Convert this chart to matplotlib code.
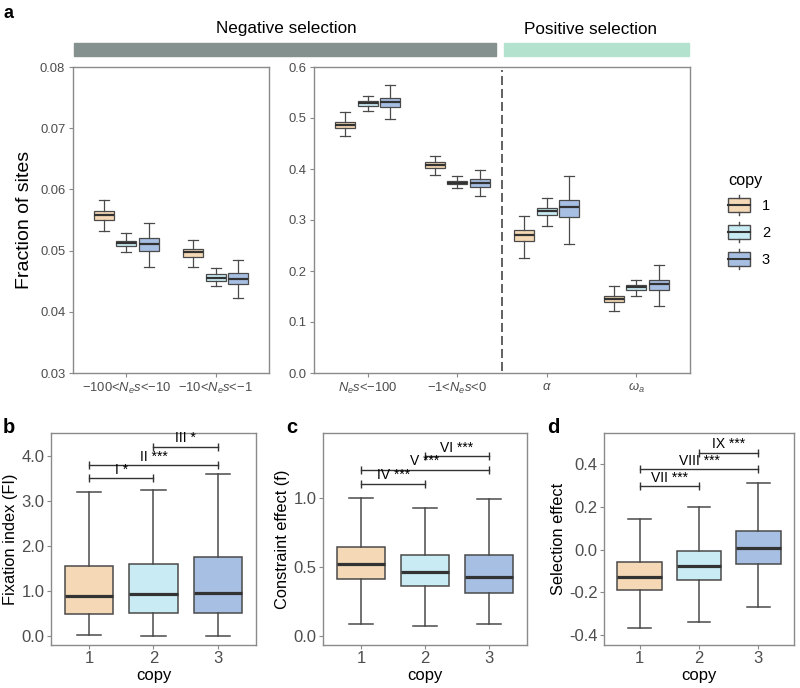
import matplotlib
matplotlib.use("Agg")
import matplotlib.pyplot as plt
from matplotlib.patches import Rectangle
from matplotlib.lines import Line2D
from matplotlib.legend_handler import HandlerBase
from matplotlib.ticker import FormatStrFormatter

plt.rcParams['font.family'] = ['Liberation Sans', 'DejaVu Sans']
plt.rcParams['mathtext.fontset'] = 'custom'
plt.rcParams['mathtext.rm'] = 'Liberation Sans'
plt.rcParams['mathtext.it'] = 'Liberation Sans:italic'
plt.rcParams['mathtext.sf'] = 'Liberation Sans'

# ---- data (whislo, q1, median, q3, whishi) ----
copies = ["1", "2", "3"]
copy_colors = ["#F5D9B6", "#C9ECF4", "#A8BFE4"]

a_left_cats = ["\u2212100<$N_e s$<\u221210", "\u221210<$N_e s$<\u22121"]
a_left_copy1 = [(0.0532, 0.0550, 0.0558, 0.0565, 0.0582), (0.0474, 0.0490, 0.0497, 0.0503, 0.0518)]
a_left_copy2 = [(0.0497, 0.0507, 0.0512, 0.0516, 0.0529), (0.0442, 0.0451, 0.0455, 0.0461, 0.0472)]
a_left_copy3 = [(0.0474, 0.0499, 0.0511, 0.0520, 0.0545), (0.0422, 0.0445, 0.0454, 0.0463, 0.0485)]

a_right_cats = ["$N_e s$<\u2212100", "\u22121<$N_e s$<0", r"$\alpha$", r"$\omega_a$"]
a_right_copy1 = [(0.464, 0.481, 0.487, 0.493, 0.511), (0.388, 0.402, 0.408, 0.413, 0.425),
                 (0.226, 0.258, 0.271, 0.280, 0.308), (0.122, 0.139, 0.145, 0.151, 0.170)]
a_right_copy2 = [(0.513, 0.524, 0.529, 0.534, 0.543), (0.363, 0.370, 0.373, 0.377, 0.386),
                 (0.288, 0.309, 0.318, 0.324, 0.343), (0.151, 0.163, 0.168, 0.172, 0.182)]
a_right_copy3 = [(0.499, 0.522, 0.531, 0.540, 0.564), (0.347, 0.365, 0.372, 0.380, 0.398),
                 (0.253, 0.306, 0.325, 0.340, 0.386), (0.132, 0.162, 0.175, 0.183, 0.211)]

b_stats = [(0.02, 0.48, 0.89, 1.56, 3.19), (0.005, 0.50, 0.93, 1.61, 3.24), (0.005, 0.52, 0.96, 1.76, 3.61)]
c_stats = [(0.087, 0.414, 0.52, 0.648, 1.0), (0.072, 0.359, 0.465, 0.585, 0.925), (0.084, 0.308, 0.429, 0.59, 0.99)]
d_stats = [(-0.369, -0.192, -0.13, -0.058, 0.145), (-0.339, -0.142, -0.077, -0.005, 0.202),
           (-0.270, -0.066, 0.008, 0.086, 0.314)]

b_brackets = [("I *", 1, 2, 3.50), ("II ***", 1, 3, 3.80), ("III *", 2, 3, 4.21)]
c_brackets = [("IV ***", 1, 2, 1.104), ("V ***", 1, 3, 1.205), ("VI ***", 2, 3, 1.301)]
d_brackets = [("VII ***", 1, 2, 0.298), ("VIII ***", 1, 3, 0.377), ("IX ***", 2, 3, 0.455)]

EDGE = "#4a4a4a"
MED = "#333333"
SPINE = "#8a8a8a"
TICK = "#4d4d4d"


def draw_box(ax, s, pos, width, color, lw, mlw):
    st = [dict(whislo=s[0], q1=s[1], med=s[2], q3=s[3], whishi=s[4])]
    ax.bxp(st, positions=[pos], widths=width, capwidths=width * 0.5,
           patch_artist=True, showfliers=False, manage_ticks=False,
           boxprops=dict(facecolor=color, edgecolor=EDGE, linewidth=lw),
           medianprops=dict(color=MED, linewidth=mlw),
           whiskerprops=dict(color=EDGE, linewidth=lw),
           capprops=dict(color=EDGE, linewidth=lw))


def style_ax(ax, tsize, pad):
    for sp in ax.spines.values():
        sp.set_color(SPINE)
        sp.set_linewidth(1.0)
    ax.tick_params(colors=SPINE, labelcolor=TICK, labelsize=tsize, length=3, width=0.8, pad=pad)


fig = plt.figure(figsize=(8, 6.88), dpi=100)
W, H = 800, 688


def px_axes(x0, x1, y0, y1):
    return fig.add_axes([x0 / W, 1 - y1 / H, (x1 - x0) / W, (y1 - y0) / H])


# ---- panel a ----
axl = px_axes(73, 269, 67, 373)
axr = px_axes(314, 690, 67, 373)

offsets = [-0.25, 0, 0.25]
for k, grp in enumerate([a_left_copy1, a_left_copy2, a_left_copy3]):
    for i, s in enumerate(grp):
        draw_box(axl, s, i + 1 + offsets[k], 0.225, copy_colors[k], 0.9, 1.6)
for k, grp in enumerate([a_right_copy1, a_right_copy2, a_right_copy3]):
    for i, s in enumerate(grp):
        draw_box(axr, s, i + 1 + offsets[k], 0.225, copy_colors[k], 0.9, 1.6)

axl.set_xlim(0.4, 2.6)
axl.set_ylim(0.03, 0.08)
axl.set_yticks([0.03, 0.04, 0.05, 0.06, 0.07, 0.08])
axl.yaxis.set_major_formatter(FormatStrFormatter('%.2f'))
axl.set_xticks([1, 2])
axl.set_xticklabels(a_left_cats)
axl.set_ylabel("Fraction of sites", fontsize=14, labelpad=5)
style_ax(axl, 9.4, 2.5)

axr.set_xlim(0.4, 4.6)
axr.set_ylim(0, 0.6)
axr.set_yticks([0, 0.1, 0.2, 0.3, 0.4, 0.5, 0.6])
axr.yaxis.set_major_formatter(FormatStrFormatter('%.1f'))
axr.set_xticks([1, 2, 3, 4])
axr.set_xticklabels(a_right_cats)
axr.axvline(2.5, color="#555555", lw=1.3, linestyle=(0, (5, 2.2)), ymin=0.005, ymax=0.99)
style_ax(axr, 9.4, 2.5)

# category bars on top
fig.patches.append(Rectangle((74 / W, 1 - 56 / H), (496 - 74) / W, 13 / H,
                             transform=fig.transFigure, color="#85918F", zorder=0))
fig.patches.append(Rectangle((504 / W, 1 - 56 / H), (689 - 504) / W, 13 / H,
                             transform=fig.transFigure, color="#B3E3CF", zorder=0))
fig.text(286 / W, 1 - 29 / H, "Negative selection", ha="center", va="center", fontsize=12.3)
fig.text(591 / W, 1 - 29 / H, "Positive selection", ha="center", va="center", fontsize=12.3)
fig.text(3 / W, 1 - 14 / H, "a", ha="left", va="center", fontsize=13, fontweight="bold")


# legend
class BoxHandler(HandlerBase):
    def create_artists(self, legend, orig_handle, xdescent, ydescent, width, height, fontsize, trans):
        fc = orig_handle.get_facecolor()
        x0, y0 = -xdescent, -ydescent
        cx = x0 + width / 2
        r = Rectangle((x0, y0 + height * 0.15), width, height * 0.7, facecolor=fc,
                      edgecolor=EDGE, lw=1.0, transform=trans)
        m = Line2D([x0, x0 + width], [y0 + height / 2] * 2, color=MED, lw=1.5, transform=trans)
        w1 = Line2D([cx, cx], [y0, y0 + height * 0.15], color=EDGE, lw=1.0, transform=trans)
        w2 = Line2D([cx, cx], [y0 + height * 0.85, y0 + height], color=EDGE, lw=1.0, transform=trans)
        return [r, m, w1, w2]


handles = [Rectangle((0, 0), 1, 1, facecolor=c) for c in copy_colors]
leg = fig.legend(handles, copies, title="copy", loc="upper left",
                 bbox_to_anchor=(721 / W, 1 - 166 / H), frameon=False, fontsize=10.5,
                 title_fontsize=11.7, handler_map={Rectangle: BoxHandler()},
                 handlelength=1.5, handleheight=1.73, labelspacing=0.48,
                 handletextpad=0.8, borderpad=0, alignment="left")

# ---- panels b, c, d ----
bottom = [
    (px_axes(51, 256, 433, 645), b_stats, b_brackets, "Fixation index (FI)",
     (-0.2, 4.51), [0, 1, 2, 3, 4], '%.1f', "b", 3),
    (px_axes(323, 527, 433, 645), c_stats, c_brackets, "Constraint effect (f)",
     (-0.065, 1.47), [0, 0.5, 1.0], '%.1f', "c", 286),
    (px_axes(604, 794, 433, 645), d_stats, d_brackets, "Selection effect",
     (-0.448, 0.547), [-0.4, -0.2, 0, 0.2, 0.4], '%.1f', "d", 547),
]

for ax, stats, brackets, ylab, ylim, yt, fmt, lab, lx in bottom:
    for k, s in enumerate(stats):
        draw_box(ax, s, k + 1, 0.75, copy_colors[k], 1.1, 2.3)
    for txt, x1, x2, y in brackets:
        ax.plot([x1, x2], [y, y], color=MED, lw=1.0)
        ax.plot([x1, x2], [y, y], ls="none", marker="|", ms=6, mew=1.0, color=MED)
        ax.annotate(txt, ((x1 + x2) / 2, y), xytext=(0, 1.0), textcoords="offset points",
                    ha="center", va="bottom", fontsize=10)
    ax.set_xlim(0.4, 3.6)
    ax.set_ylim(*ylim)
    ax.set_yticks(yt)
    ax.yaxis.set_major_formatter(FormatStrFormatter(fmt))
    ax.set_xticks([1, 2, 3])
    ax.set_xticklabels(copies)
    ax.set_xlabel("copy", fontsize=12, labelpad=1.5)
    ax.set_ylabel(ylab, fontsize=11.8, labelpad=2.5)
    style_ax(ax, 12, 1.5)
    fig.text(lx / W, 1 - 433 / H, lab, ha="left", va="baseline", fontsize=14.5, fontweight="bold")

fig.savefig("out.png", dpi=100)
